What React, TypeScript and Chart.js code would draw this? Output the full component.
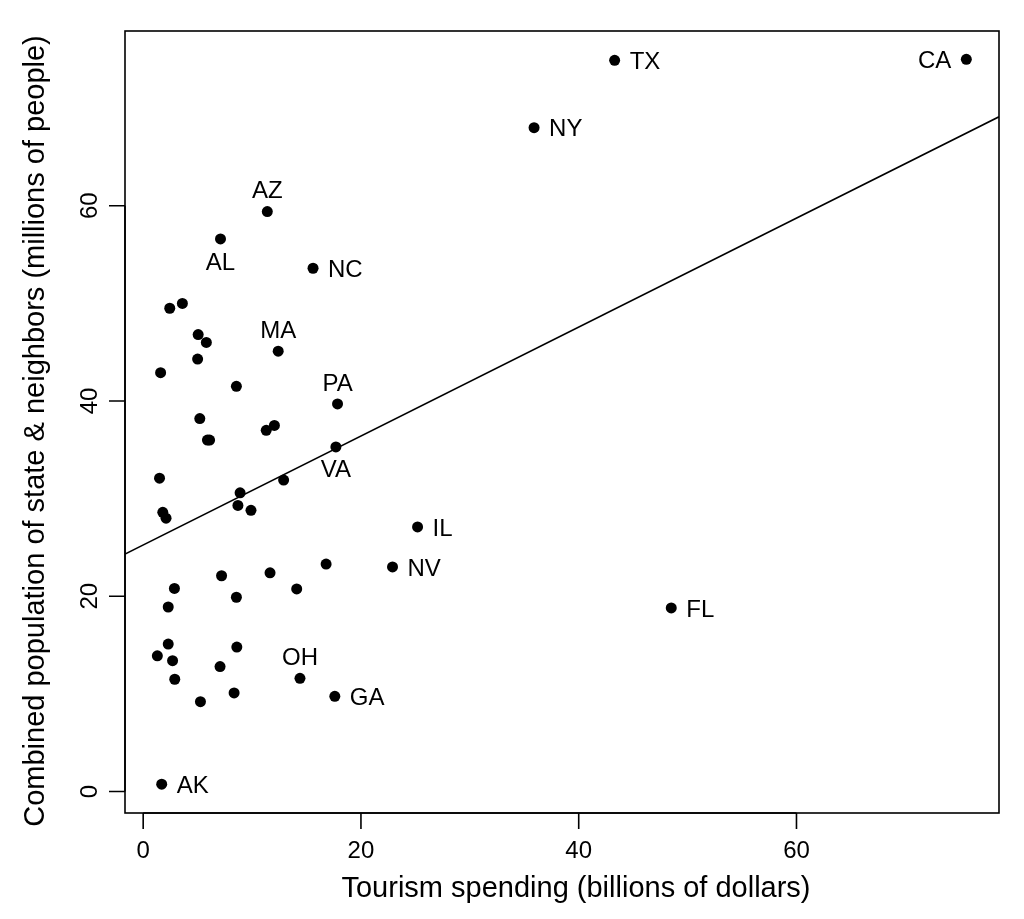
import React, { useEffect, useRef } from "react";
import { Chart, registerables } from "chart.js";

Chart.register(...registerables);

// Tourism spending (billions of dollars)
const X_VALUES = [
  75.6, 43.3, 35.9, 11.4, 7.1, 15.6, 12.4, 17.85, 17.7, 25.2, 22.9, 48.5, 14.4, 17.6, 1.7,
  2.44, 3.6, 5.05, 5.8, 5.0, 1.6, 8.56, 5.2, 5.9, 6.1, 11.3, 12.05, 1.5, 12.9, 8.9, 8.7, 9.9,
  1.8, 2.1, 2.87, 2.3, 7.2, 8.56, 11.65, 14.1, 16.8, 2.3, 1.3, 2.7, 2.9, 8.6, 7.06, 5.26, 8.35,
];
// Combined population of state & neighbors (millions of people)
const Y_VALUES = [
  75.0, 74.9, 68.0, 59.4, 56.6, 53.6, 45.1, 39.7, 35.3, 27.1, 23.0, 18.8, 11.6, 9.75, 0.75,
  49.5, 50.0, 46.8, 46.0, 44.3, 42.9, 41.5, 38.2, 36.0, 36.0, 37.0, 37.5, 32.1, 31.9, 30.6, 29.3, 28.8,
  28.6, 28.0, 20.8, 18.9, 22.1, 19.9, 22.4, 20.75, 23.3, 15.1, 13.9, 13.4, 11.5, 14.8, 12.8, 9.2, 10.1,
];
const STATE_LABELS = [
  "CA", "TX", "NY", "AZ", "AL", "NC", "MA", "PA", "VA", "IL", "NV", "FL", "OH", "GA", "AK",
];
const LABEL_SIDES = [
  "left", "right", "right", "above", "below", "right", "above", "above", "below", "right",
  "right", "right", "above", "right", "right",
];
const X_TICKS = [0, 20, 40, 60];
const Y_TICKS = [0, 20, 40, 60];
const X_RANGE = [-1.67, 78.6];
const Y_RANGE = [-2.2, 77.9];
const FIT_INTERCEPT = 25.25;
const FIT_SLOPE = 0.558;
const X_TITLE = "Tourism spending (billions of dollars)";
const Y_TITLE = "Combined population of state & neighbors (millions of people)";

const FONT = "'Liberation Sans', Arial, Helvetica, sans-serif";

const rAxesPlugin = {
  id: "rAxes",
  afterDatasetsDraw(chart: any) {
    const { ctx, scales } = chart;
    const xs = scales.x;
    const ys = scales.y;
    ctx.save();
    ctx.fillStyle = "#000";
    ctx.font = `24px ${FONT}`;
    ctx.textBaseline = "alphabetic";
    for (let i = 0; i < STATE_LABELS.length; i++) {
      const px = xs.getPixelForValue(X_VALUES[i]);
      const py = ys.getPixelForValue(Y_VALUES[i]);
      const side = LABEL_SIDES[i];
      const capShift = 8.6;
      if (side === "right") {
        ctx.textAlign = "left";
        ctx.fillText(STATE_LABELS[i], px + 15, py + capShift);
      } else if (side === "left") {
        ctx.textAlign = "right";
        ctx.fillText(STATE_LABELS[i], px - 15, py + capShift);
      } else if (side === "above") {
        ctx.textAlign = "center";
        ctx.fillText(STATE_LABELS[i], px, py - 22 + capShift);
      } else {
        ctx.textAlign = "center";
        ctx.fillText(STATE_LABELS[i], px, py + 22 + capShift);
      }
    }
    ctx.restore();
  },
  afterDraw(chart: any) {
    const { ctx, chartArea: a, scales } = chart;
    const xs = scales.x;
    const ys = scales.y;
    ctx.save();
    ctx.strokeStyle = "#000";
    ctx.fillStyle = "#000";
    ctx.lineWidth = 1.6;
    // box
    ctx.strokeRect(a.left, a.top, a.right - a.left, a.bottom - a.top);
    // x axis
    const tickLen = 16;
    ctx.beginPath();
    ctx.moveTo(xs.getPixelForValue(X_TICKS[0]), a.bottom);
    ctx.lineTo(xs.getPixelForValue(X_TICKS[X_TICKS.length - 1]), a.bottom);
    for (const t of X_TICKS) {
      const px = xs.getPixelForValue(t);
      ctx.moveTo(px, a.bottom);
      ctx.lineTo(px, a.bottom + tickLen);
    }
    // y axis
    ctx.moveTo(a.left, ys.getPixelForValue(Y_TICKS[0]));
    ctx.lineTo(a.left, ys.getPixelForValue(Y_TICKS[Y_TICKS.length - 1]));
    for (const t of Y_TICKS) {
      const py = ys.getPixelForValue(t);
      ctx.moveTo(a.left, py);
      ctx.lineTo(a.left - tickLen, py);
    }
    ctx.stroke();

    ctx.font = `24px ${FONT}`;
    ctx.textAlign = "center";
    ctx.textBaseline = "alphabetic";
    for (const t of X_TICKS) {
      ctx.fillText(String(t), xs.getPixelForValue(t), a.bottom + 44.6);
    }
    for (const t of Y_TICKS) {
      ctx.save();
      ctx.translate(a.left - 28, ys.getPixelForValue(t));
      ctx.rotate(-Math.PI / 2);
      ctx.fillText(String(t), 0, 0);
      ctx.restore();
    }
    ctx.font = `29px ${FONT}`;
    ctx.fillText(X_TITLE, 576, 897);
    ctx.save();
    ctx.translate(44, 431);
    ctx.rotate(-Math.PI / 2);
    ctx.fillText(Y_TITLE, 0, 0);
    ctx.restore();
    ctx.restore();
  },
};

export default function App() {
  const canvasRef = useRef<HTMLCanvasElement | null>(null);

  useEffect(() => {
    if (!canvasRef.current) return;
    const points = X_VALUES.map((x, i) => ({ x, y: Y_VALUES[i] }));
    const fitLine = X_RANGE.map((x) => ({ x, y: FIT_INTERCEPT + FIT_SLOPE * x }));
    const chart = new Chart(canvasRef.current, {
      type: "scatter",
      data: {
        datasets: [
          {
            data: fitLine,
            showLine: true,
            borderColor: "#000",
            borderWidth: 1.6,
            pointRadius: 0,
            fill: false,
          } as any,
          {
            data: points,
            pointRadius: 5.5,
            pointBackgroundColor: "#000",
            pointBorderWidth: 0,
            borderColor: "#000",
          },
        ],
      },
      options: {
        animation: false,
        responsive: false,
        devicePixelRatio: 1,
        events: [],
        layout: { padding: { left: 125, right: 25, top: 31, bottom: 106 } },
        plugins: { legend: { display: false }, tooltip: { enabled: false } },
        scales: {
          x: { type: "linear", min: X_RANGE[0], max: X_RANGE[1], display: false },
          y: { type: "linear", min: Y_RANGE[0], max: Y_RANGE[1], display: false },
        },
      },
      plugins: [rAxesPlugin],
    });
    return () => chart.destroy();
  }, []);

  return (
    <div style={{ position: "absolute", left: 0, top: 0, width: 1024, height: 919, background: "#fff" }}>
      <canvas ref={canvasRef} width={1024} height={919} />
    </div>
  );
}
